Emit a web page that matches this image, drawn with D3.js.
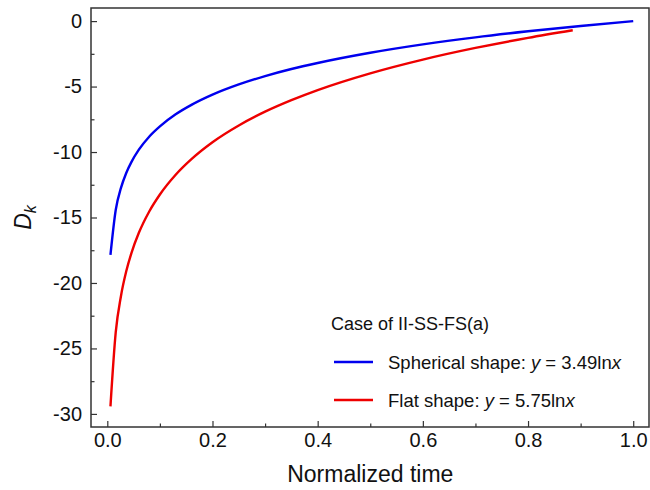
<!DOCTYPE html>
<html>
<head>
<meta charset="utf-8">
<script src="https://cdn.jsdelivr.net/npm/d3@7"></script>
<style>
  body { margin: 0; background: #fff; }
  text { font-family: "Liberation Sans", Arial, sans-serif; fill: #111; }
</style>
</head>
<body>
<div id="chart-area"></div>
<script>
// DATA
const xSpherical = [0.006, 0.016, 0.026, 0.036, 0.046, 0.06, 0.08, 0.1, 0.13, 0.16, 0.2, 0.25, 0.3, 0.35, 0.4, 0.5, 0.6, 0.7, 0.8, 0.9, 1.0];
const ySpherical = [-17.86, -14.43, -12.74, -11.60, -10.75, -9.82, -8.81, -8.04, -7.12, -6.40, -5.62, -4.84, -4.20, -3.66, -3.20, -2.42, -1.78, -1.24, -0.78, -0.37, 0];
const xFlat = [0.006, 0.016, 0.026, 0.036, 0.046, 0.06, 0.08, 0.1, 0.13, 0.16, 0.2, 0.25, 0.3, 0.35, 0.4, 0.5, 0.6, 0.7, 0.8, 0.885];
const yFlat = [-29.42, -23.78, -20.99, -19.11, -17.70, -16.17, -14.52, -13.24, -11.73, -10.54, -9.25, -7.97, -6.92, -6.04, -5.27, -3.99, -2.94, -2.05, -1.28, -0.70];
const xTicks = [0, 0.2, 0.4, 0.6, 0.8, 1.0];
const yTicks = [0, -5, -10, -15, -20, -25, -30];
const legendTitle = "Case of II-SS-FS(a)";
const seriesNames = ["Spherical shape: ", "Flat shape: "];
const seriesCoef = ["3.49", "5.75"];
const seriesColors = ["#0000ee", "#ee0000"];

const margin = { left: 91, right: 1, top: 8, bottom: 63 };
const W = 650, H = 490;
const width = W - margin.left - margin.right,
    height = H - margin.top - margin.bottom;

const svg = d3.select("#chart-area")
    .append("svg")
    .attr("width", W)
    .attr("height", H);

const g = svg.append("g")
    .attr("transform", "translate(" + margin.left + ", " + margin.top + ")");

const x = d3.scaleLinear().domain([-0.031, 1.030]).range([0, width]);
const y = d3.scaleLinear().domain([-31.0, 1.0]).range([height, 0]);

// AXES (ticks pointing in)
const xAxisCall = d3.axisBottom(x)
    .tickValues(xTicks)
    .tickSize(-6)
    .tickPadding(6)
    .tickFormat(d3.format(".1f"));
const xMinor = d3.axisBottom(x)
    .tickValues(d3.range(1, 10, 2).map(d => d / 10))
    .tickSize(-3.5)
    .tickFormat("");
const yAxisCall = d3.axisLeft(y)
    .tickValues(yTicks)
    .tickSize(-6)
    .tickPadding(9)
    .tickFormat(d => d);
const yMinor = d3.axisLeft(y)
    .tickValues([-2.5, -7.5, -12.5, -17.5, -22.5, -27.5])
    .tickSize(-3.5)
    .tickFormat("");

g.append("g").attr("transform", "translate(0," + height + ")").call(xAxisCall);
g.append("g").attr("transform", "translate(0," + height + ")").call(xMinor);
g.append("g").call(yAxisCall);
g.append("g").call(yMinor);

g.selectAll(".domain").remove();
g.selectAll(".tick line").attr("stroke", "#333").attr("stroke-width", 1.2);
g.selectAll(".tick text").attr("font-size", "20px").attr("font-family", "Liberation Sans, Arial, sans-serif").attr("fill", "#111");

// FRAME
g.append("rect")
    .attr("width", width)
    .attr("height", height)
    .attr("fill", "none")
    .attr("stroke", "#333")
    .attr("stroke-width", 1.5);

// LINES
const line = d3.line()
    .x(d => x(d[0]))
    .y(d => y(d[1]))
    .curve(d3.curveMonotoneX);

const series = [
    xSpherical.map((d, i) => [d, ySpherical[i]]),
    xFlat.map((d, i) => [d, yFlat[i]])
];

series.forEach(function (s, i) {
    g.append("path")
        .datum(s)
        .attr("fill", "none")
        .attr("stroke", seriesColors[i])
        .attr("stroke-width", 2.4)
        .attr("d", line);
});

// LEGEND
const leg = svg.append("g").attr("transform", "translate(331, 330)");
leg.append("text")
    .attr("x", 0)
    .attr("y", 0)
    .attr("font-size", "18px")
    .text(legendTitle);

seriesNames.forEach(function (name, i) {
    const row = leg.append("g").attr("transform", "translate(0," + (32 + i * 38) + ")");
    row.append("line")
        .attr("x1", 3).attr("x2", 42)
        .attr("y1", 0).attr("y2", 0)
        .attr("stroke", seriesColors[i])
        .attr("stroke-width", 2.4);
    const t = row.append("text")
        .attr("x", 57)
        .attr("y", 7)
        .attr("font-size", "18.5px");
    t.append("tspan").text(name.trim() + "\u00a0");
    t.append("tspan").attr("font-style", "italic").text("y");
    t.append("tspan").text("\u00a0=\u00a0" + seriesCoef[i] + "ln");
    t.append("tspan").attr("font-style", "italic").text("x");
});

// X LABEL
svg.append("text")
    .attr("x", margin.left + x(0.5))
    .attr("y", 482)
    .attr("font-size", "23px")
    .attr("text-anchor", "middle")
    .text("Normalized time");

// Y LABEL
const yl = svg.append("text")
    .attr("transform", "translate(31, " + (margin.top + y(-15)) + ") rotate(-90)")
    .attr("font-size", "23px")
    .attr("text-anchor", "middle");
yl.append("tspan").attr("font-style", "italic").text("D");
yl.append("tspan").attr("font-style", "italic").attr("font-size", "16px").attr("dy", 5).text("k");
</script>
</body>
</html>
